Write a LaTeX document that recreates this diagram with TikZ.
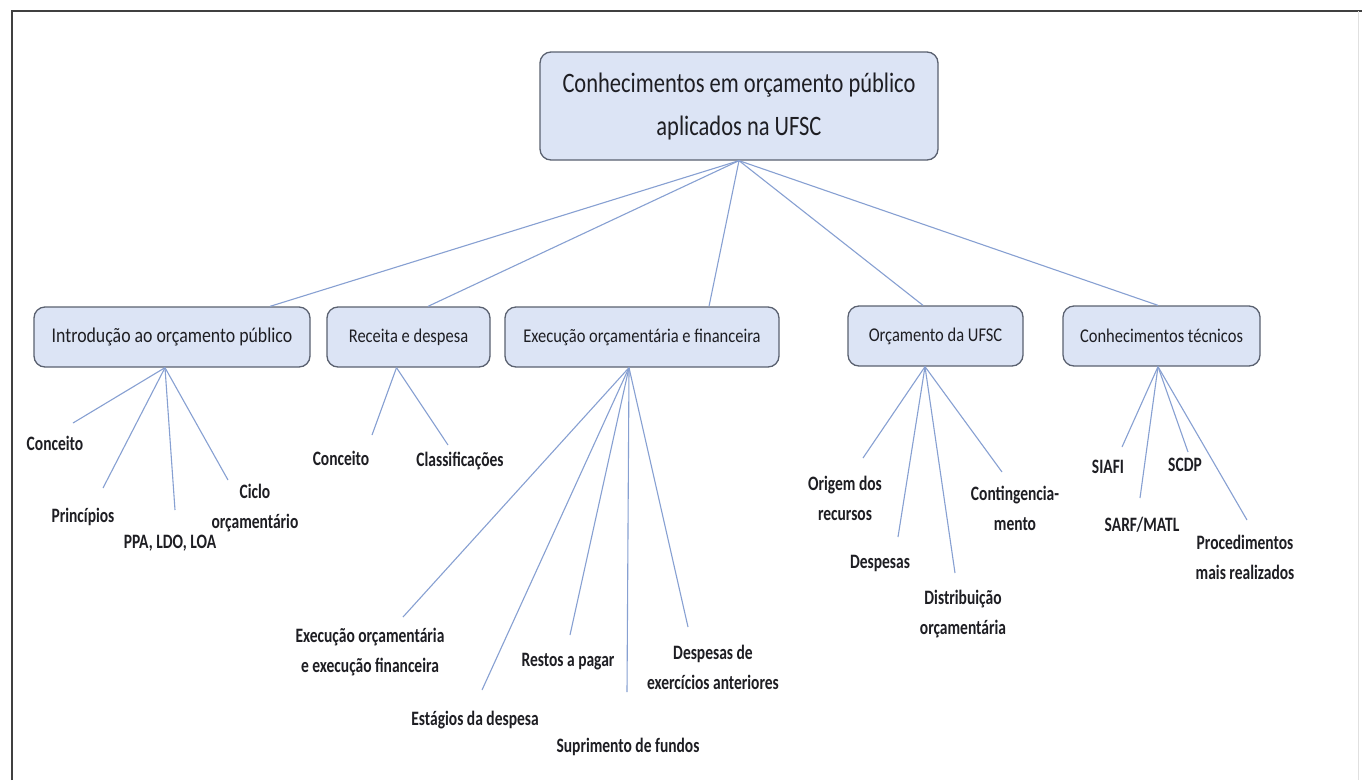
\documentclass[tikz,border=0pt]{standalone}
\usepackage{fontspec}
\setmainfont{Carlito}
\newcommand\rs[1]{\scalebox{1}[1.25]{#1}}
\newcommand\ts[1]{\scalebox{1}[1.18]{#1}}
\newcommand\ls[1]{\scalebox{1}[1.32]{#1}}
\begin{document}
\begin{tikzpicture}[x=1pt,y=-1pt,
  box/.style={draw=boxline, line width=1.3pt, fill=boxfill, rounded corners=11pt, inner sep=0pt, text=txt},
  rootbox/.style={box, minimum width=398pt, minimum height=108pt, font=\fontsize{22.5}{43}\selectfont, align=center},
  topicbox/.style={box, minimum height=60pt, font=\fontsize{16.5}{20}\selectfont},
  leaf/.style={font=\bfseries\fontsize{15.5}{30}\selectfont, text=txt, align=center, inner sep=0pt},
  link/.style={draw=linkc, line width=1.1pt}
]
\definecolor{boxfill}{RGB}{220,228,245}
\definecolor{boxline}{RGB}{90,97,112}
\definecolor{linkc}{RGB}{135,160,210}
\definecolor{txt}{RGB}{30,30,35}
\useasboundingbox (0,0) rectangle (1362,780);
\fill[white] (0,0) rectangle (1362,780);
\draw[line width=1.6pt, draw=black!75] (12,780) -- (12,11) -- (1362,11);
\draw[line width=0.8pt, draw=black!12] (1358,11) -- (1358,780);

% root
\node[rootbox] (root) at (739,106) {\rs{Conhecimentos em orçamento público}\\\rs{aplicados na UFSC}};

% topics
\node[topicbox, minimum width=276pt, font=\fontsize{17.8}{20}\selectfont] (intro) at (172,337) {\ts{Introdução ao orçamento público}};
\node[topicbox, minimum width=163pt] (rec) at (408.5,337) {\ts{Receita e despesa}};
\node[topicbox, minimum width=274pt] (exe) at (642,337) {\ts{Execução orçamentária e financeira}};
\node[topicbox, minimum width=175pt] (orc) at (935.5,336) {\ts{Orçamento da UFSC}};
\node[topicbox, minimum width=197pt] (tec) at (1161.5,336) {\ts{Conhecimentos técnicos}};

% root links
\draw[link] (root.south) -- ([xshift=98pt]intro.north);
\draw[link] (root.south) -- ([xshift=19.5pt]rec.north);
\draw[link] (root.south) -- ([xshift=67pt]exe.north);
\draw[link] (root.south) -- ([xshift=-12.5pt]orc.north);
\draw[link] (root.south) -- ([xshift=-3.5pt]tec.north);

% anchor points on topic boxes
\coordinate (introB) at ([xshift=-7pt]intro.south);
\coordinate (recB) at ([xshift=-12pt]rec.south);
\coordinate (exeB) at ([xshift=-13pt]exe.south);
\coordinate (orcB) at ([xshift=-10.5pt]orc.south);
\coordinate (tecB) at ([xshift=-3.5pt]tec.south);

% Intro leaves
\node[leaf] (i1) at (55,443) {\ls{Conceito}};
\node[leaf] (i2) at (83,517) {\ls{Princípios}};
\node[leaf] (i3) at (170,543) {\ls{PPA, LDO, LOA}};
\node[leaf] (i4) at (255,508) {\ls{Ciclo}\\\ls{orçamentário}};
\coordinate (i1e) at (73,423);
\coordinate (i2e) at (103,488);
\coordinate (i3e) at (175,510);
\coordinate (i4e) at (228,480);
\foreach \e in {i1e,i2e,i3e,i4e} \draw[link] (introB) -- (\e);

% Receita leaves
\node[leaf] (r1) at (341,458) {\ls{Conceito}};
\node[leaf] (r2) at (460,461) {\ls{Classificações}};
\coordinate (r1e) at (372,435);
\coordinate (r2e) at (448,445);
\foreach \e in {r1e,r2e} \draw[link] (recB) -- (\e);

% Execucao leaves
\node[leaf] (e1) at (370,652) {\ls{Execução orçamentária}\\\ls{e execução financeira}};
\node[leaf] (e2) at (475,720) {\ls{Estágios da despesa}};
\node[leaf] (e3) at (568,662) {\ls{Restos a pagar}};
\node[leaf] (e4) at (628,747) {\ls{Suprimento de fundos}};
\node[leaf] (e5) at (713,667) {\ls{Despesas de}\\\ls{exercícios anteriores}};
\coordinate (e1e) at (403,617);
\coordinate (e2e) at (482,690);
\coordinate (e3e) at (570,635);
\coordinate (e4e) at (627,692);
\coordinate (e5e) at (688,627);
\foreach \e in {e1e,e2e,e3e,e4e,e5e} \draw[link] (exeB) -- (\e);

% Orcamento leaves
\node[leaf] (o1) at (845,498) {\ls{Origem dos}\\\ls{recursos}};
\node[leaf] (o2) at (880,563) {\ls{Despesas}};
\node[leaf] (o3) at (963,614) {\ls{Distribuição}\\\ls{orçamentária}};
\node[leaf] (o4) at (1015,508) {\ls{Contingencia-}\\\ls{mento}};
\coordinate (o1e) at (863,458);
\coordinate (o2e) at (898,537);
\coordinate (o3e) at (955,573);
\coordinate (o4e) at (1002,472);
\foreach \e in {o1e,o2e,o3e,o4e} \draw[link] (orcB) -- (\e);

% Tecnicos leaves
\node[leaf] (t1) at (1108,467) {\ls{SIAFI}};
\node[leaf] (t2) at (1142,525) {\ls{SARF/MATL}};
\node[leaf] (t3) at (1185,465) {\ls{SCDP}};
\node[leaf] (t4) at (1245,557) {\ls{Procedimentos}\\\ls{mais realizados}};
\coordinate (t1e) at (1122,447);
\coordinate (t2e) at (1140,498);
\coordinate (t3e) at (1188,452);
\coordinate (t4e) at (1247,520);
\foreach \e in {t1e,t2e,t3e,t4e} \draw[link] (tecB) -- (\e);
\end{tikzpicture}
\end{document}
